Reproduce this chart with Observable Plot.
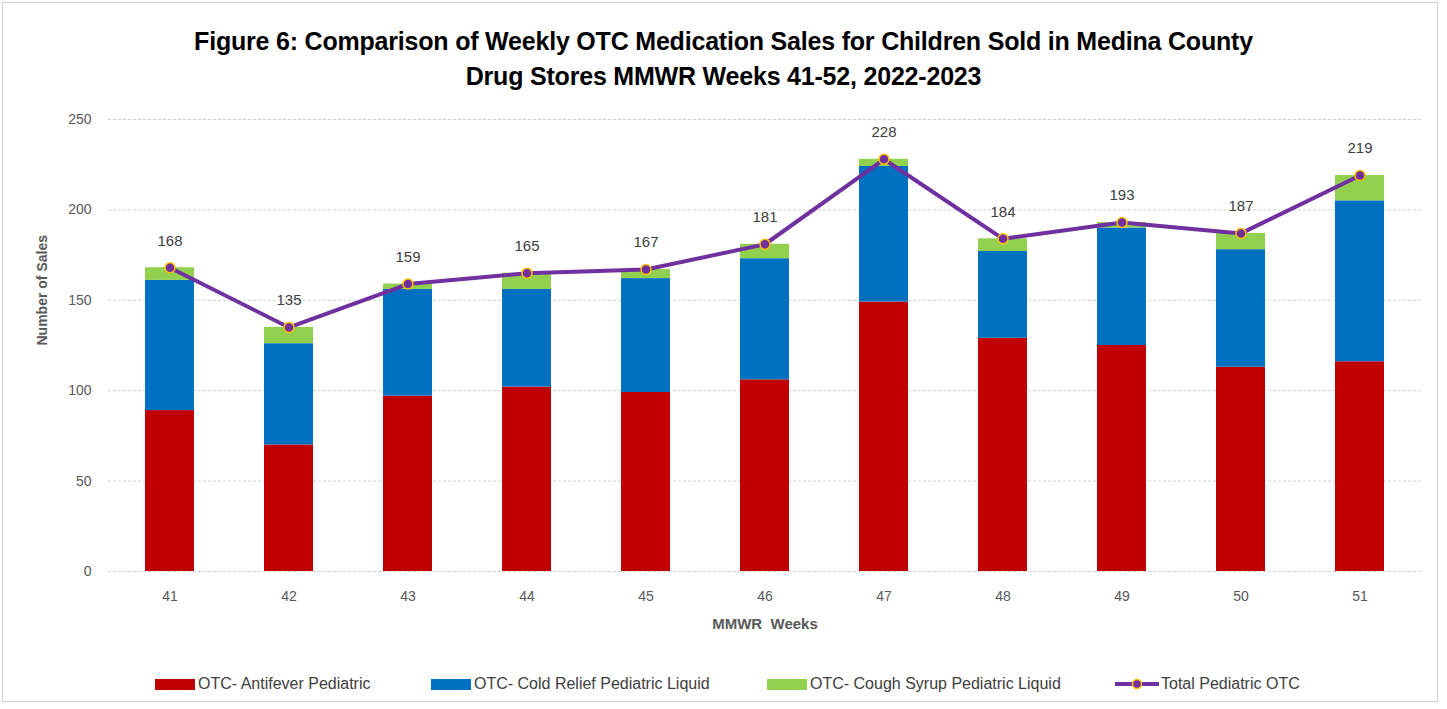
<!DOCTYPE html>
<html>
<head>
<meta charset="utf-8">
<script src="https://cdn.jsdelivr.net/npm/d3@7"></script>
<script src="https://cdn.jsdelivr.net/npm/@observablehq/plot@0.6"></script>
<style>
  html, body { margin: 0; padding: 0; background: #fff; }
  body { width: 1447px; height: 709px; position: relative; overflow: hidden; font-family: "Liberation Sans", Arial, sans-serif; }
  #frame { position: absolute; left: 2px; top: 2px; width: 1436px; height: 700px; border: 1px solid #d0d0d0; box-sizing: border-box; }
  #title { position: absolute; left: 0; top: 24px; width: 1447px; text-align: center; font-weight: bold; font-size: 25px; line-height: 35px; color: #000; letter-spacing: -0.2px; }
  #chart { position: absolute; left: 0; top: 100px; }
  #legend { position: absolute; left: 0; top: 674px; width: 1447px; height: 20px; font-size: 16px; color: #404040; }
  .li { position: absolute; top: 0; display: flex; align-items: center; height: 20px; white-space: nowrap; }
  .sw { display: inline-block; width: 40px; height: 11px; margin-right: 3px; }
</style>
</head>
<body>
<div id="frame"></div>
<div id="title">Figure 6: Comparison of Weekly OTC Medication Sales for Children Sold in Medina County<br>Drug Stores MMWR Weeks 41-52, 2022-2023</div>
<div id="chart"></div>
<div id="legend"></div>
<script>
const weeks = ["41","42","43","44","45","46","47","48","49","50","51"];
const antifever = [89, 70, 97, 102, 99, 106, 149, 129, 125, 113, 116];
const coldRelief = [72, 56, 59, 54, 63, 67, 75, 48, 65, 65, 89];
const coughSyrup = [7, 9, 3, 9, 5, 8, 4, 7, 3, 9, 14];
const totals = [168, 135, 159, 165, 167, 181, 228, 184, 193, 187, 219];
const seriesNames = ["OTC- Antifever Pediatric", "OTC- Cold Relief Pediatric Liquid", "OTC- Cough Syrup Pediatric Liquid"];
const seriesColors = ["#C00000", "#0070C0", "#92D050"];
const lineName = "Total Pediatric OTC";
const yTicks = [0, 50, 100, 150, 200, 250];

const seriesValues = [antifever, coldRelief, coughSyrup];
const barData = [];
seriesNames.forEach((s, si) => weeks.forEach((w, i) => barData.push({week: w, series: s, value: seriesValues[si][i]})));
const lineData = weeks.map((w, i) => ({week: w, total: totals[i]}));

const plot = Plot.plot({
  width: 1447,
  height: 550,
  marginTop: 19,
  marginBottom: 79,
  marginLeft: 108,
  marginRight: 26,
  style: { fontFamily: "Liberation Sans, Arial, sans-serif", fontSize: "14px", color: "#595959", background: "transparent" },
  x: { domain: weeks, paddingInner: 0.59, paddingOuter: 0.295, label: null },
  y: { domain: [0, 250], label: null },
  color: { domain: seriesNames, range: seriesColors },
  marks: [
    Plot.gridY(yTicks, { stroke: "#d0d0d0", strokeOpacity: 1, strokeDasharray: "3,2" }),
    Plot.barY(barData, Plot.stackY({ x: "week", y: "value", fill: "series", order: seriesNames })),
    Plot.line(lineData, { x: "week", y: "total", stroke: "#7030A0", strokeWidth: 4 }),
    Plot.dot(lineData, { x: "week", y: "total", r: 5, fill: "#7030A0", stroke: "#FFC000", strokeWidth: 1.5 }),
    Plot.text(lineData, { x: "week", y: "total", text: d => String(d.total), dy: -27, fill: "#404040", fontSize: 15 }),
    Plot.axisX({ tickSize: 0, tickPadding: 20, label: null, fill: "#595959" }),
    Plot.axisY(yTicks, { tickSize: 0, tickPadding: 17, label: null, fill: "#595959" }),
    Plot.text(["MMWR  Weeks"], { frameAnchor: "bottom", dy: 57, fontWeight: "bold", fontSize: 15, fill: "#595959" }),
    Plot.text(["Number of Sales"], { frameAnchor: "left", dx: -66, rotate: -90, fontWeight: "bold", fontSize: 14, fill: "#595959" })
  ]
});
document.getElementById("chart").appendChild(plot);

// legend
const legend = document.getElementById("legend");
const positions = [155, 431, 767];
seriesNames.forEach((s, i) => {
  const d = document.createElement("div");
  d.className = "li";
  d.style.left = positions[i] + "px";
  d.innerHTML = `<span class="sw" style="background:${seriesColors[i]}"></span>${s}`;
  legend.appendChild(d);
});
const ld = document.createElement("div");
ld.className = "li";
ld.style.left = "1115px";
ld.innerHTML = `<svg width="44" height="14" style="margin-right:2px"><line x1="0" y1="7" x2="44" y2="7" stroke="#7030A0" stroke-width="4"/><circle cx="22" cy="7" r="4.5" fill="#7030A0" stroke="#FFC000" stroke-width="1.5"/></svg>${lineName}`;
legend.appendChild(ld);
</script>
</body>
</html>
